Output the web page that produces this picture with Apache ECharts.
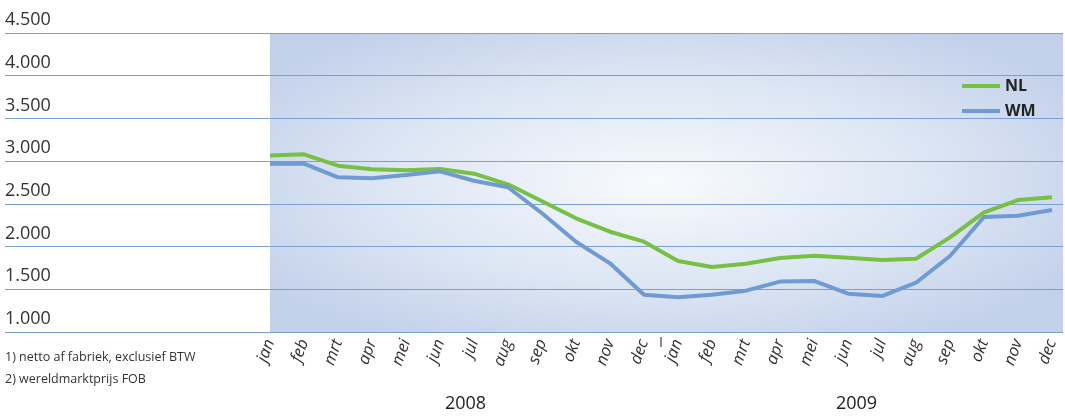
<!DOCTYPE html>
<html>
<head>
<meta charset="utf-8">
<script src="https://cdn.jsdelivr.net/npm/echarts@6/dist/echarts.min.js"></script>
<style>html,body{margin:0;padding:0;background:#fff}#c{width:1065px;height:417px}</style>
</head>
<body>
<div id="c"></div>
<script>
var months = ['jan','feb','mrt','apr','mei','jun','jul','aug','sep','okt','nov','dec','jan','feb','mrt','apr','mei','jun','jul','aug','sep','okt','nov','dec'];
var years = ['2008','2009'];
var nlValues = [3065,3080,2947,2905,2893,2908,2853,2729,2530,2331,2174,2057,1831,1761,1800,1866,1893,1870,1843,1858,2108,2401,2545,2577];
var wmValues = [2970,2970,2811,2799,2838,2881,2771,2694,2390,2057,1804,1437,1406,1437,1484,1590,1597,1449,1421,1577,1890,2346,2361,2428];
var yMin = 1000, yMax = 4500, yStep = 500;
var yearDividers = [11.5];
var footnotes = ['1) netto af fabriek, exclusief BTW', '2) wereldmarktprijs FOB'];

var FONT = '"Open Sans", "Noto Sans", sans-serif';
function fmt(v){ return Math.floor(v/1000) + '.' + String(v % 1000).padStart(3,'0'); }

var chart = echarts.init(document.getElementById('c'));
chart.setOption({
  animation: false,
  textStyle: { fontFamily: FONT },
  graphic: [
    {
      type: 'rect', z: -10, left: 270, top: 33,
      shape: { width: 793, height: 793 },
      scaleY: 299/793,
      style: {
        fill: new echarts.graphic.RadialGradient(0.49, 0.5, 0.62, [
          { offset: 0, color: '#f8fafd' },
          { offset: 0.55, color: '#dde6f4' },
          { offset: 1, color: '#c2d0ea' }
        ])
      }
    },
    { type: 'text', left: 5, top: 351, style: { text: footnotes[0], font: '12.5px ' + FONT, fill: '#333' } },
    { type: 'text', left: 5, top: 373, style: { text: footnotes[1], font: '12.5px ' + FONT, fill: '#333' } }
  ],
  grid: [
    { left: 5, right: 2, top: 33, bottom: 85 },
    { left: 270, right: 13, top: 33, bottom: 85 }
  ],
  legend: {
    orient: 'vertical', left: 957, top: 73,
    itemWidth: 38, itemHeight: 4, itemGap: 9, icon: 'rect',
    textStyle: { fontSize: 16, fontWeight: 'bold', color: '#222', fontFamily: FONT },
    data: ['NL', 'WM']
  },
  xAxis: [
    { gridIndex: 0, type: 'value', show: false, min: 0, max: 1 },
    {
      gridIndex: 1, type: 'category', data: months, boundaryGap: false,
      axisLine: { show: false }, axisTick: { show: false },
      axisLabel: { rotate: 70, fontStyle: 'italic', fontSize: 16.5, color: '#333', margin: 8, interval: 0 }
    },
    {
      gridIndex: 1, type: 'category', data: years, boundaryGap: true, position: 'bottom',
      axisLine: { show: false }, axisTick: { show: false },
      axisLabel: { fontSize: 18, color: '#222', margin: 63 }
    },
    {
      gridIndex: 1, type: 'value', min: 0, max: months.length - 1, position: 'bottom', offset: 5,
      axisLine: { show: false }, splitLine: { show: false },
      axisTick: { show: true, customValues: yearDividers, length: 10, lineStyle: { color: '#8c8c8c', width: 2 } },
      axisLabel: { show: false }
    }
  ],
  yAxis: [
    {
      gridIndex: 0, type: 'value', min: yMin, max: yMax, interval: yStep,
      axisLine: { show: false }, axisTick: { show: false },
      splitLine: { show: true, lineStyle: { color: '#7a9fd3', width: 1 } },
      axisLabel: {
        inside: true, margin: 0, align: 'left', verticalAlign: 'bottom',
        padding: [0, 0, 4, 0], fontSize: 18, color: '#333', formatter: fmt
      }
    },
    { gridIndex: 1, type: 'value', min: yMin, max: yMax, interval: yStep, show: false, splitLine: { show: false } }
  ],
  series: [
    {
      name: 'NL', type: 'line', xAxisIndex: 1, yAxisIndex: 1, data: nlValues,
      showSymbol: false, symbol: 'none', lineStyle: { color: '#77c043', width: 4 }, itemStyle: { color: '#77c043' }
    },
    {
      name: 'WM', type: 'line', xAxisIndex: 1, yAxisIndex: 1, data: wmValues,
      showSymbol: false, symbol: 'none', lineStyle: { color: '#6f9bd2', width: 4 }, itemStyle: { color: '#6f9bd2' }
    }
  ]
});
</script>
</body>
</html>
